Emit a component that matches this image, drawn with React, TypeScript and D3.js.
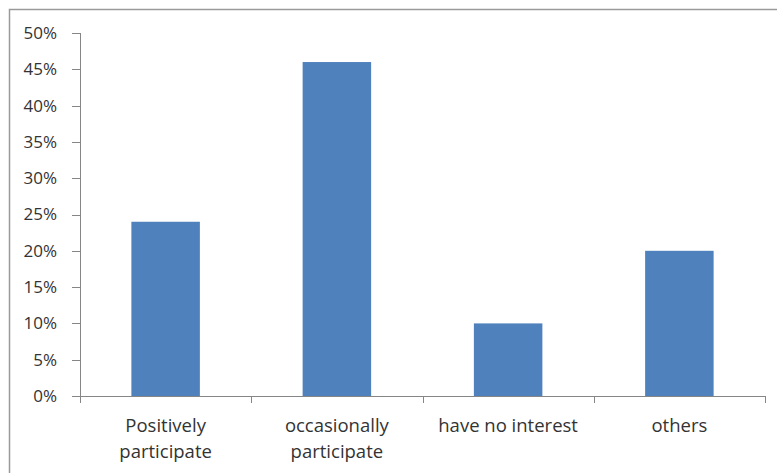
import React from "react";
import * as d3 from "d3";

// Survey shares per participation category
const categories: string[][] = [
  ["Positively", "participate"],
  ["occasionally", "participate"],
  ["have no interest"],
  ["others"],
];
const shares: number[] = [0.24, 0.46, 0.1, 0.2];
const yTicks: number[] = [0, 0.05, 0.1, 0.15, 0.2, 0.25, 0.3, 0.35, 0.4, 0.45, 0.5];

const W = 777;
const H = 473;
const plot = { left: 80, right: 765, top: 33, bottom: 396 };
const FONT = "'Open Sans', 'Noto Sans', sans-serif";
const AXIS = "#868686";
const TEXT = "#333333";
const BAR = "#4f81bd";

export default function App() {
  const keys = categories.map((c) => c.join(" "));
  const x = d3
    .scaleBand<string>()
    .domain(keys)
    .range([plot.left, plot.right])
    .paddingInner(0.6)
    .paddingOuter(0.3);
  const y = d3.scaleLinear().domain([0, 0.5]).range([plot.bottom, plot.top]);
  const step = x.step();
  const fmt = d3.format(".0%");
  // category boundaries for the x-axis tick marks
  const bounds = d3.range(keys.length + 1).map((i) => plot.left + i * step);

  return (
    <svg
      width={W}
      height={H}
      style={{ position: "absolute", left: 0, top: 0, background: "#fff" }}
    >
      {/* chart frame */}
      <rect x={9.5} y={9.5} width={W + 20} height={H + 20} fill="#fff" stroke="#9a9a9a" strokeWidth={1.5} />

      {/* bars */}
      {keys.map((k, i) => (
        <rect
          key={k}
          x={x(k)!}
          y={y(shares[i])}
          width={x.bandwidth()}
          height={y(0) - y(shares[i])}
          fill={BAR}
        />
      ))}

      {/* y axis */}
      <line x1={plot.left + 0.5} x2={plot.left + 0.5} y1={y(0.5)} y2={y(0)} stroke={AXIS} />
      {yTicks.map((t) => (
        <g key={t}>
          <line
            x1={plot.left - 8}
            x2={plot.left}
            y1={Math.round(y(t)) + 0.5}
            y2={Math.round(y(t)) + 0.5}
            stroke={AXIS}
          />
          <text
            x={plot.left - 23}
            y={y(t)}
            dy="0.35em"
            textAnchor="end"
            fontFamily={FONT}
            fontSize={17}
            fill={TEXT}
          >
            {fmt(t)}
          </text>
        </g>
      ))}

      {/* x axis */}
      <line x1={plot.left} x2={plot.right} y1={plot.bottom + 0.5} y2={plot.bottom + 0.5} stroke={AXIS} />
      {bounds.map((b, i) => (
        <line
          key={i}
          x1={Math.round(b) + 0.5}
          x2={Math.round(b) + 0.5}
          y1={plot.bottom}
          y2={plot.bottom + 7}
          stroke={AXIS}
        />
      ))}
      {categories.map((lines, i) => (
        <text
          key={i}
          x={x(keys[i])! + x.bandwidth() / 2}
          y={432}
          textAnchor="middle"
          fontFamily={FONT}
          fontSize={18.5}
          fill={TEXT}
        >
          {lines.map((ln, j) => (
            <tspan key={j} x={x(keys[i])! + x.bandwidth() / 2} dy={j === 0 ? 0 : 26}>
              {ln}
            </tspan>
          ))}
        </text>
      ))}
    </svg>
  );
}
